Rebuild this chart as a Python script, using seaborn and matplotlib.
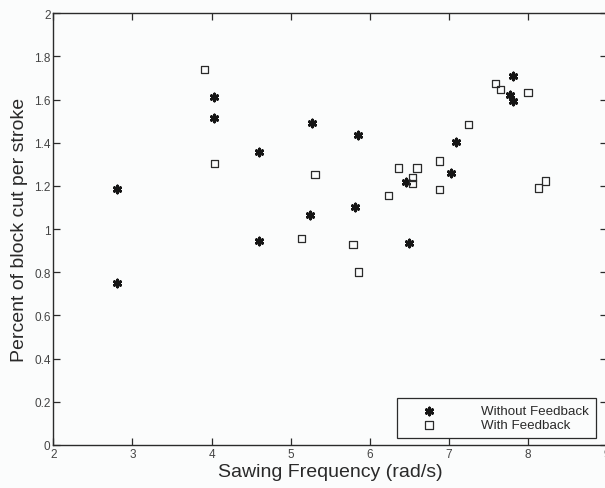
import matplotlib
matplotlib.use("Agg")
import matplotlib.pyplot as plt
import seaborn as sns
import pandas as pd

# Sawing trials without haptic feedback
freq_without = [2.80, 2.80, 4.03, 4.03, 4.60, 4.60, 5.27, 5.24, 5.85, 5.82,
                6.50, 6.46, 7.03, 7.09, 7.81, 7.77, 7.81]
cut_without = [1.186, 0.749, 1.611, 1.515, 1.356, 0.944, 1.491, 1.066, 1.435, 1.103,
               0.938, 1.220, 1.259, 1.403, 1.710, 1.622, 1.596]

# Sawing trials with haptic feedback
freq_with = [3.91, 4.04, 5.31, 5.14, 5.79, 5.86, 6.24, 6.36, 6.60, 6.54,
             6.54, 6.88, 6.88, 7.25, 7.59, 7.65, 8.00, 8.13, 8.22]
cut_with = [1.741, 1.304, 1.253, 0.958, 0.928, 0.802, 1.155, 1.284, 1.284, 1.238,
            1.210, 1.316, 1.184, 1.486, 1.676, 1.648, 1.634, 1.190, 1.223]

series_labels = ["Without Feedback", "With Feedback"]
x_ticks = [2, 3, 4, 5, 6, 7, 8, 9]
y_ticks = [0, 0.2, 0.4, 0.6, 0.8, 1, 1.2, 1.4, 1.6, 1.8, 2]
y_tick_labels = ["0", "0.2", "0.4", "0.6", "0.8", "1", "1.2", "1.4", "1.6", "1.8", "2"]

df_without = pd.DataFrame({"freq": freq_without, "cut": cut_without})
df_with = pd.DataFrame({"freq": freq_with, "cut": cut_with})

sns.set_theme(style="ticks")
plt.rcParams["font.family"] = ["Liberation Sans", "DejaVu Sans"]

bg = "#fbfcfc"
fig = plt.figure(figsize=(6.05, 4.89), dpi=100, facecolor=bg)
ax = fig.add_axes([53.3 / 605, 1 - 446 / 489, (607 - 53.3) / 605, (446 - 14.3) / 489])
ax.set_facecolor(bg)

sns.scatterplot(data=df_without, x="freq", y="cut", ax=ax, marker=(6, 2, 0),
                s=26, color="#151515", linewidth=2.0, label=series_labels[0], zorder=3)
sns.scatterplot(data=df_with, x="freq", y="cut", ax=ax, marker="s",
                s=28, facecolor="none", edgecolor="#2a2a2a", linewidth=0.9,
                label=series_labels[1], zorder=3)

ax.set_xlim(2, 9)
ax.set_ylim(0, 2)
ax.set_xticks(x_ticks)
ax.set_yticks(y_ticks)
ax.set_yticklabels(y_tick_labels)

for side in ["left", "right", "top", "bottom"]:
    ax.spines[side].set_visible(True)
    ax.spines[side].set_color("#2b2b2b")
    ax.spines[side].set_linewidth(1.0)

ax.tick_params(direction="in", length=5, width=0.9, color="#2b2b2b",
               top=True, right=True, labelsize=8.5, labelcolor="#444444")
ax.tick_params(axis="x", pad=2)
ax.tick_params(axis="y", pad=2)

ax.set_xlabel("Sawing Frequency (rad/s)", fontsize=14, color="#2a2a2a", labelpad=2)
ax.set_ylabel("Percent of block cut per stroke", fontsize=14, color="#2a2a2a", labelpad=4)

leg = ax.legend(loc="lower left", bbox_to_anchor=(397 / 605, 1 - 439 / 489),
                bbox_transform=fig.transFigure, fontsize=9.6, frameon=True, fancybox=False,
                handlelength=3.8, handletextpad=2.0, borderpad=0.5, labelspacing=0.12,
                borderaxespad=0)
leg.get_frame().set_edgecolor("#2b2b2b")
leg.get_frame().set_linewidth(0.9)
leg.get_frame().set_facecolor(bg)
leg.get_frame().set_alpha(1)
for t in leg.get_texts():
    t.set_color("#2a2a2a")

fig.savefig("out.png", dpi=100, facecolor=bg)
